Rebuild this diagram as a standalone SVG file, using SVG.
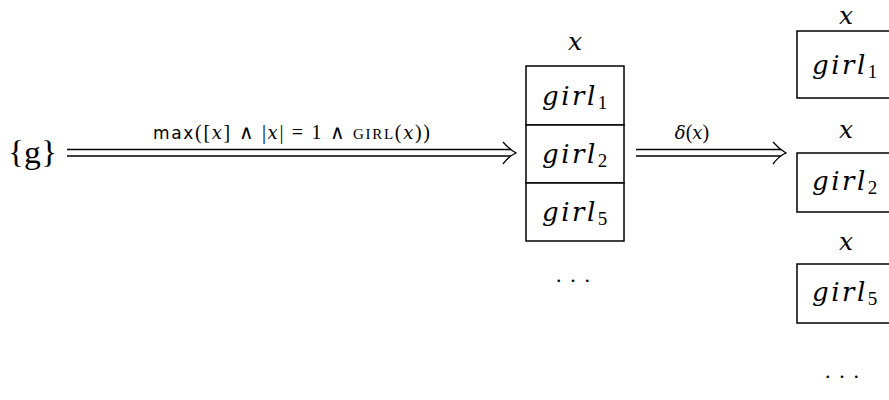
<svg xmlns="http://www.w3.org/2000/svg" width="889" height="400" viewBox="0 0 889 400">
<style>
.t{font-family:"Liberation Serif",serif;fill:#000}
.i{font-family:"DejaVu Serif",serif;font-style:italic}
.g{font-family:"DejaVu Serif",serif;font-style:italic;font-size:26px;letter-spacing:2.5px}
.sub{font-family:"Liberation Serif",serif;font-style:normal;font-size:19px;letter-spacing:0}
.b{fill:#fff;stroke:#000;stroke-width:1.5}
.c{stroke:#000;stroke-width:1.3;fill:none}
.s{font-family:"DejaVu Sans","Liberation Sans",sans-serif}
</style>
<rect width="889" height="400" fill="#fff"/>
<g id="source">
<text class="t" x="8" y="163" font-size="32" textLength="49" lengthAdjust="spacingAndGlyphs">{g}</text>
</g>
<g id="connectors">
<line class="c" x1="67" y1="149.5" x2="511" y2="149.5"/>
<line class="c" x1="67" y1="156" x2="511" y2="156"/>
<path class="c" d="M503,142 Q509,149 516,153 Q509,156 503,164"/>
<text class="t" x="153" y="139" font-size="20" textLength="277" lengthAdjust="spacing"><tspan class="s" font-size="17">max</tspan>([<tspan class="i" font-size="18">x</tspan>] ∧ |<tspan class="i" font-size="18">x</tspan>| = 1 ∧ <tspan font-size="15">GIRL</tspan>(<tspan class="i" font-size="18">x</tspan>))</text>
<line class="c" x1="636" y1="149.5" x2="781" y2="149.5"/>
<line class="c" x1="636" y1="156" x2="781" y2="156"/>
<path class="c" d="M773,142 Q779,149 786,153 Q779,156 773,164"/>
<text class="t" x="692" y="139" font-size="20" text-anchor="middle"><tspan class="i" font-size="18">δ</tspan>(<tspan class="i" font-size="18">x</tspan>)</text>
</g>
<g id="stack">
<text class="t i" x="575" y="50" font-size="25" text-anchor="middle">x</text>
<rect class="b" x="526" y="66" width="98" height="59"/>
<rect class="b" x="526" y="125" width="98" height="58"/>
<rect class="b" x="526" y="183" width="98" height="58"/>
<text class="g" x="542" y="105">girl<tspan class="sub" dy="4">1</tspan></text>
<text class="g" x="542" y="163">girl<tspan class="sub" dy="4">2</tspan></text>
<text class="g" x="542" y="221">girl<tspan class="sub" dy="4">5</tspan></text>
<text class="t" x="556" y="282" font-size="22" textLength="34" lengthAdjust="spacing">...</text>
</g>
<g id="out1">
<text class="t i" x="846" y="24" font-size="25" text-anchor="middle">x</text>
<rect class="b" x="797" y="31" width="110" height="67"/>
<text class="g" x="812" y="74">girl<tspan class="sub" dy="4">1</tspan></text>
</g>
<g id="out2">
<text class="t i" x="846" y="138" font-size="25" text-anchor="middle">x</text>
<rect class="b" x="797" y="153" width="110" height="59"/>
<text class="g" x="812" y="190">girl<tspan class="sub" dy="4">2</tspan></text>
</g>
<g id="out3">
<text class="t i" x="846" y="250" font-size="25" text-anchor="middle">x</text>
<rect class="b" x="797" y="264" width="110" height="59"/>
<text class="g" x="812" y="301">girl<tspan class="sub" dy="4">5</tspan></text>
<text class="t" x="825" y="378" font-size="22" textLength="34" lengthAdjust="spacing">...</text>
</g>
</svg>
